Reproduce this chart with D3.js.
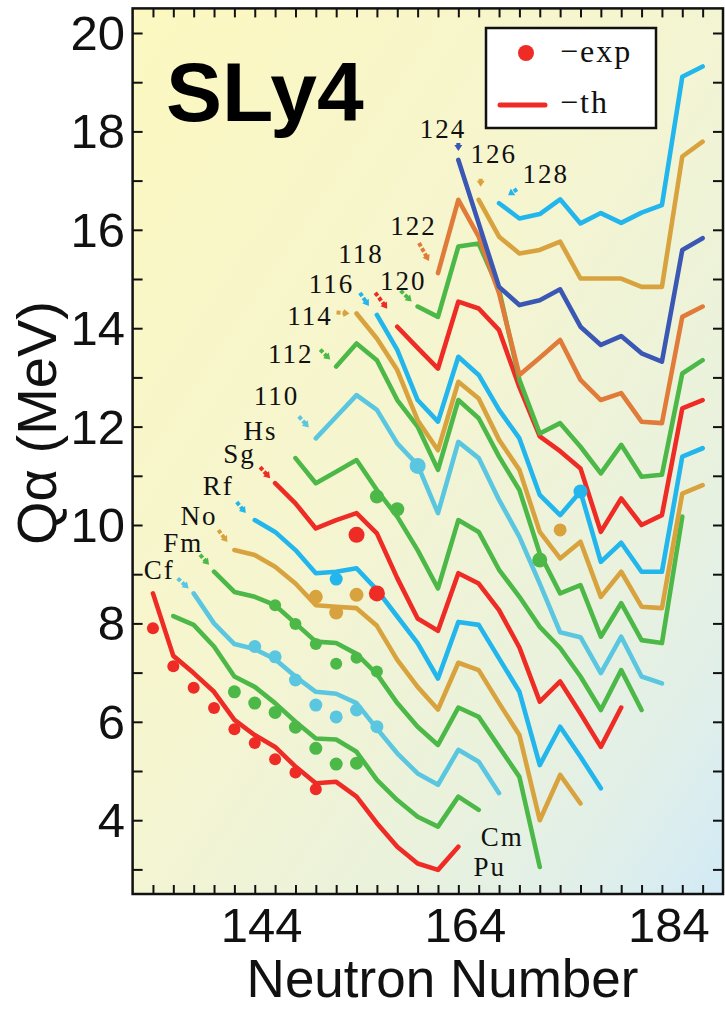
<!DOCTYPE html>
<html><head><meta charset="utf-8">
<script src="https://cdn.jsdelivr.net/npm/d3@7"></script>
<style>html,body{margin:0;padding:0;background:#fff;}svg{display:block;}</style>
</head><body>
<svg id="chart" width="725" height="1009"></svg>
<script>
// ---------- DATA ----------
const elements = ["Pu","Cm","Cf","Fm","No","Rf","Sg","Hs","110","112","114","116","118","120","122","124","126","128"];
const firstN   = [134,136,138,140,142,144,146,148,150,152,154,156,158,160,162,164,166,168];

const qPu  = [8.61,7.34,6.99,6.61,6.04,5.73,5.49,5.09,4.75,4.78,4.48,3.94,3.46,3.12,2.99,3.46];
const qCm  = [8.15,7.97,7.53,6.92,6.71,6.38,6.00,5.66,5.64,5.39,4.82,4.41,4.07,3.87,4.48,4.21];
const qCf  = [8.61,8.00,7.58,7.48,7.27,6.92,6.61,6.57,6.38,5.86,5.36,4.95,4.72,5.43,5.19,4.55];
const qFm  = [9.05,8.64,8.54,8.37,8.00,7.63,7.60,7.38,6.97,6.38,5.90,5.53,6.29,6.10,5.49,4.88,3.05];
const qNo  = [9.49,9.39,9.15,8.81,8.37,8.34,8.31,7.95,7.26,6.71,6.25,7.20,7.05,6.38,5.73,4.00,4.92,4.34];
const qRf  = [10.10,9.86,9.49,9.02,9.05,9.12,8.68,8.14,7.60,6.88,8.03,7.97,7.29,6.61,5.12,5.90,5.29,4.65];
const qSg  = [10.85,10.44,9.93,10.10,10.24,9.83,8.92,8.10,7.85,9.02,8.81,8.27,7.51,6.41,6.82,6.17,5.49,6.29];
const qHs  = [11.36,10.85,11.08,11.32,10.71,10.17,9.49,8.71,10.10,9.86,9.09,8.54,7.93,7.50,6.92,6.24,7.05,6.24];
const q110 = [11.76,12.20,12.64,12.34,11.66,11.22,10.24,11.69,11.36,10.51,9.76,8.81,7.82,7.72,6.99,7.73,6.92,6.78];
const q112 = [13.22,13.69,13.35,12.54,12.00,11.12,12.54,12.17,11.39,10.71,9.42,8.61,8.78,7.73,8.41,7.66,7.60,10.17];
const q114 = [14.30,13.79,13.15,12.13,11.52,12.91,12.57,11.73,11.12,9.86,9.32,9.66,8.54,9.05,8.34,8.31,10.64,10.81];
const q116 = [14.27,13.56,12.54,12.10,13.42,13.05,12.34,11.76,10.61,10.20,10.68,9.25,9.64,9.05,9.05,11.39,11.56];
const q118 = [14.03,13.60,13.18,14.54,14.40,13.96,12.80,11.80,11.50,11.15,9.86,10.54,10.00,10.20,12.37,12.54];
const q120 = [14.44,14.23,15.66,15.72,14.78,12.95,11.86,12.07,11.59,11.05,11.63,10.98,11.02,13.08,13.35];
const q122 = [15.12,16.61,15.86,14.71,13.05,13.40,13.76,12.95,12.54,12.68,12.10,12.07,14.23,14.44];
const q124 = [17.42,16.13,14.84,14.47,14.57,14.79,14.03,13.66,13.84,13.49,13.32,15.59,15.83];
const q126 = [16.61,15.86,15.52,15.59,15.76,15.01,15.01,15.01,14.84,14.84,17.49,17.79];
const q128 = [16.54,16.23,16.32,16.62,16.13,16.34,16.14,16.35,16.50,19.11,19.32];
const qTheory = [qPu,qCm,qCf,qFm,qNo,qRf,qSg,qHs,q110,q112,q114,q116,q118,q120,q122,q124,q126,q128];

// experimental points: first N of each run (steps of 2) and values
const expElem   = ["Pu","Cm","Cf","Fm","No","Rf","Sg","Hs","110","112","114","116"];
const expFirstN = [134,142,144,146,150,152,154,156,160,172,174,176];
const expPu  = [7.90,7.13,6.69,6.28,5.85,5.57,5.24,4.97,4.63];
const expCm  = [6.61,6.38,6.19,5.89,5.46,5.14,5.16];
const expCf  = [7.53,7.32,6.85,6.34,6.10,6.24,5.90];
const expFm  = [8.37,7.99,7.58,7.18,7.30,7.02];
const expNo  = [8.54,8.22,8.58];
const expRf  = [8.90];
const expSg  = [9.80,8.61];
const expHs  = [10.58,10.32];
const exp110 = [11.20];
const exp112 = [9.29];
const exp114 = [9.90];
const exp116 = [10.68];
const expValues = [expPu,expCm,expCf,expFm,expNo,expRf,expSg,expHs,exp110,exp112,exp114,exp116];

const xTickValues = [144,164,184];
const yTickValues = [4,6,8,10,12,14,16,18,20];

// element label anchors (N, Q) for text
const labelN = [165.5,166.2,133.1,135.0,136.7,138.9,140.9,142.9,143.9,145.3,147.2,149.3,152.2,156.3,157.3,160.2,165.2,170.3];
const labelQ = [2.86,3.47,8.90,9.45,10.00,10.61,11.26,11.73,12.44,13.29,14.07,14.72,15.33,14.78,15.89,17.87,17.36,16.95];

// ---------- STYLE / LAYOUT ----------
const C = {red:"#ee2b25", green:"#4cb848", lcyan:"#5bc6e0", cyan:"#22b6ec", gold:"#d8a33e", orange:"#e07b3a", blue:"#3a57b4"};
const colorOf = [C.red,C.green,C.lcyan,C.green,C.gold,C.cyan,C.red,C.green,C.lcyan,C.green,C.gold,C.cyan,C.red,C.green,C.orange,C.blue,C.gold,C.cyan];
const expRadius = [6,6.5,6.5,6,7,6.5,8,7,8,7.5,6.5,7];
// arrow offsets (px) relative to first point of each chain: [tailDx, tailDy, headDx, headDy]
const arrowOff = [null,null,[-16,-15,-5,-5],[-14,-17,-5,-7],[-16,-20,-7,-8],[-18,-18,-9,-7],[-15,-16,-5,-5],null,
  [-17,-22,-7,-11],[-16,-17,-6,-7],[-20,-1,-7,0],[-17,-22,-8,-9],[-22,-34,-10,-18],[-17,-16,-6,-5],[-19,-30,-9,-12],
  [0,-17,0,-9],[2,-21,2,-13],[18,-14,9,-8]];

const svg = d3.select("#chart");
const x = d3.scaleLinear().domain([132,190]).range([132.6,723]);
const y = d3.scaleLinear().domain([2.5,20.5]).range([894,8.4]);
const [x0,x1] = x.range(), [yb,yt] = y.range();

// background gradient
const defs = svg.append("defs");
const grad = defs.append("linearGradient").attr("id","bg").attr("x1",0).attr("y1",0).attr("x2",1).attr("y2",1);
[[0,"#fcf8c0"],[0.45,"#f5f5d0"],[0.72,"#eaf2dd"],[0.88,"#e0efea"],[1,"#d2eaf6"]].forEach(s=>grad.append("stop").attr("offset",s[0]).attr("stop-color",s[1]));
defs.append("clipPath").attr("id","clip").append("rect").attr("x",x0).attr("y",yt).attr("width",x1-x0).attr("height",yb-yt);

svg.append("rect").attr("x",x0).attr("y",yt).attr("width",x1-x0).attr("height",yb-yt).attr("fill","url(#bg)");

const plot = svg.append("g").attr("clip-path","url(#clip)");
const line = d3.line().x(d=>x(d[0])).y(d=>y(d[1]));

// theory lines
qTheory.forEach((arr,i)=>{
  const pts = arr.map((q,j)=>[firstN[i]+2*j,q]);
  plot.append("path").attr("d",line(pts)).attr("fill","none")
    .attr("stroke",colorOf[i]).attr("stroke-width",4.6)
    .attr("stroke-linejoin","round").attr("stroke-linecap","round");
});

// experimental points
expValues.forEach((arr,k)=>{
  const i = elements.indexOf(expElem[k]);
  plot.selectAll(null).data(arr.map((q,j)=>[expFirstN[k]+2*j,q])).enter()
    .append("circle").attr("cx",d=>x(d[0])).attr("cy",d=>y(d[1])).attr("r",expRadius[k])
    .attr("fill",colorOf[i]);
});

// small arrows pointing to the start of each chain
arrowOff.forEach((o,i)=>{
  if(!o) return;
  const sx = x(firstN[i]), sy = y(qTheory[i][0]);
  const tx = sx+o[0], ty = sy+o[1], hx = sx+o[2], hy = sy+o[3];
  const ang = Math.atan2(hy-ty,hx-tx);
  const g = plot.append("g").attr("fill",colorOf[i]).attr("stroke",colorOf[i]);
  g.append("line").attr("x1",tx).attr("y1",ty).attr("x2",hx-3*Math.cos(ang)).attr("y2",hy-3*Math.sin(ang))
    .attr("stroke-width",4).attr("stroke-dasharray","4,2");
  const L=6, Wd=4;
  const bx = hx-L*Math.cos(ang), by = hy-L*Math.sin(ang);
  g.append("path").attr("stroke","none").attr("d",
    `M${hx},${hy}L${bx+Wd*Math.sin(ang)},${by-Wd*Math.cos(ang)}L${bx-Wd*Math.sin(ang)},${by+Wd*Math.cos(ang)}Z`);
});

// element labels
svg.append("g").selectAll("text").data(elements).enter().append("text")
  .attr("x",(d,i)=>x(labelN[i])).attr("y",(d,i)=>y(labelQ[i]))
  .attr("font-family","'Liberation Serif','DejaVu Serif',serif").attr("font-size",27)
  .attr("letter-spacing",2).attr("fill","#111").text(d=>d);

// axes (ticks inward)
const axG = svg.append("g");
const xt = d3.range(134,190,2), yt2 = d3.range(3,21,1);
axG.append("g").attr("transform",`translate(0,${yb})`).call(d3.axisBottom(x).tickValues(xt).tickSize(-9).tickFormat(""));
axG.append("g").attr("transform",`translate(0,${yt})`).call(d3.axisTop(x).tickValues(xt).tickSize(-9).tickFormat(""));
axG.append("g").attr("transform",`translate(${x0},0)`).call(d3.axisLeft(y).tickValues(yt2).tickSize(-10).tickFormat(""));
axG.append("g").attr("transform",`translate(${x1},0)`).call(d3.axisRight(y).tickValues(yt2).tickSize(-10).tickFormat(""));
axG.selectAll("path.domain").remove();
axG.selectAll(".tick line").attr("stroke","#111").attr("stroke-width",2);
svg.append("rect").attr("x",x0).attr("y",yt).attr("width",x1-x0).attr("height",yb-yt)
  .attr("fill","none").attr("stroke","#111").attr("stroke-width",2.5);

// tick labels
svg.append("g").selectAll("text").data(xTickValues).enter().append("text")
  .attr("x",d=>x(d)+7).attr("y",942).attr("text-anchor","middle")
  .attr("font-family","'Liberation Sans',Arial,sans-serif").attr("font-size",49).attr("fill","#111").text(d=>d);
svg.append("g").selectAll("text").data(yTickValues).enter().append("text")
  .attr("x",125).attr("y",d=>y(d)+17).attr("text-anchor","end")
  .attr("font-family","'Liberation Sans',Arial,sans-serif").attr("font-size",49).attr("fill","#111").text(d=>d);

// axis titles
svg.append("text").attr("x",(235+650)/2).attr("y",997).attr("text-anchor","middle")
  .attr("font-family","'Liberation Sans',Arial,sans-serif").attr("font-size",53).attr("fill","#111").text("Neutron Number");
svg.append("text").attr("transform","translate(56,423) rotate(-90)").attr("text-anchor","middle")
  .attr("font-family","'Liberation Sans',Arial,sans-serif").attr("font-size",56).attr("fill","#111").text("Q\u03b1 (MeV)");

// model name
svg.append("text").attr("x",166).attr("y",121).attr("font-family","'Liberation Sans',Arial,sans-serif")
  .attr("font-weight","bold").attr("font-size",84).attr("fill","#000").text("SLy4");

// legend
const lg = svg.append("g");
lg.append("rect").attr("x",486).attr("y",28).attr("width",170).attr("height",100).attr("fill","#fff").attr("stroke","#111").attr("stroke-width",2.5);
lg.append("circle").attr("cx",526).attr("cy",53).attr("r",8).attr("fill",C.red);
lg.append("line").attr("x1",500).attr("x2",545).attr("y1",105).attr("y2",105).attr("stroke",C.red).attr("stroke-width",5).attr("stroke-linecap","round");
lg.append("text").attr("x",560).attr("y",62).attr("font-family","'Liberation Serif',serif").attr("font-size",32).attr("letter-spacing",2).attr("fill","#111").text("\u2212exp");
lg.append("text").attr("x",560).attr("y",113).attr("font-family","'Liberation Serif',serif").attr("font-size",32).attr("letter-spacing",2).attr("fill","#111").text("\u2212th");
</script>
</body></html>
